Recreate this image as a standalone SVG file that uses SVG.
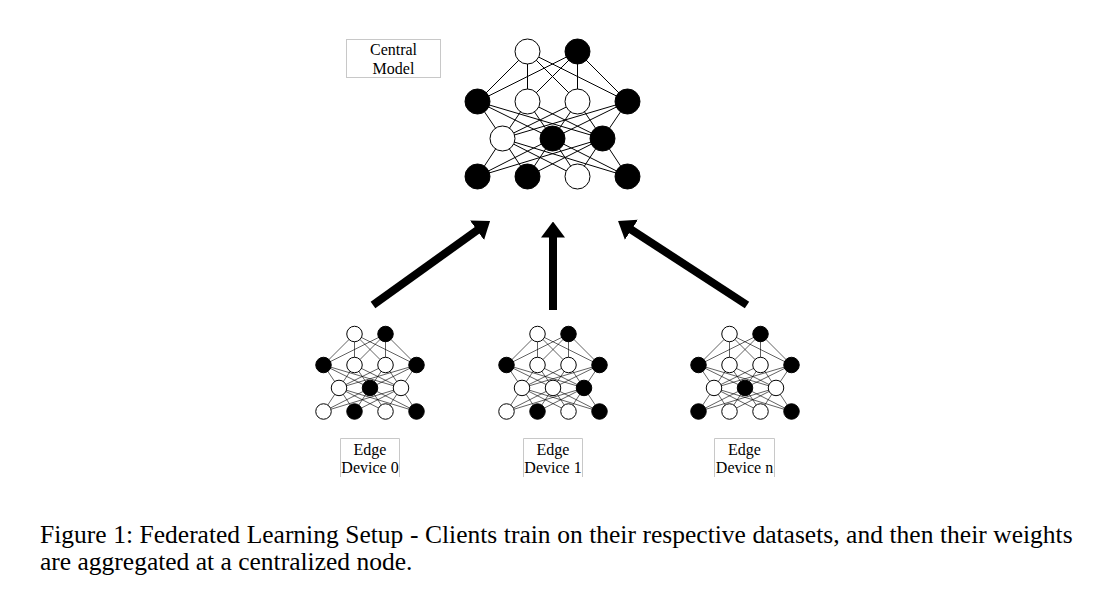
<svg xmlns="http://www.w3.org/2000/svg" xmlns:xlink="http://www.w3.org/1999/xlink" width="1112" height="602" viewBox="0 0 1112 602">
<style>
.ln{fill:none;stroke:#000;stroke-width:1}
.w{fill:#fff;stroke:#000;stroke-width:1}
.b{fill:#000;stroke:#000;stroke-width:1}
.edge .ln,.edge .w,.edge .b{stroke-width:1.6}
.box{fill:none;stroke:#c8c8c8;stroke-width:1}
.lbl{font-family:"Liberation Serif","DejaVu Serif",serif;font-size:16px;fill:#000;text-anchor:middle}
.cap{font-family:"Liberation Serif","Times New Roman",serif;font-size:25.5px;fill:#000}
.arr{fill:none;stroke:#000;stroke-width:8}
</style>
<defs>
<marker id="ah" markerUnits="userSpaceOnUse" viewBox="0 0 16 24" markerWidth="16" markerHeight="24" refX="4" refY="12" orient="auto">
<path d="M0,0 L16,12 L0,24 Z" fill="#000"/>
</marker>
<path id="net" class="ln" d="M-25,0L-75,50M-25,0L-25,50M-25,0L25,50M-25,0L75,50M25,0L-75,50M25,0L-25,50M25,0L25,50M25,0L75,50
M-75,50L-50,87M-75,50L0,87M-75,50L50,87M-25,50L-50,87M-25,50L0,87M-25,50L50,87M25,50L-50,87M25,50L0,87M25,50L50,87M75,50L-50,87M75,50L0,87M75,50L50,87
M-50,87L-75,125M-50,87L-25,125M-50,87L25,125M-50,87L75,125M0,87L-75,125M0,87L-25,125M0,87L25,125M0,87L75,125M50,87L-75,125M50,87L-25,125M50,87L25,125M50,87L75,125"/>
</defs>

<g id="central-model">
<g transform="translate(552.5,51.5)">
<use xlink:href="#net" href="#net"/>
<circle class="w" cx="-25" cy="0" r="12.5"/><circle class="b" cx="25" cy="0" r="12.5"/>
<circle class="b" cx="-75" cy="50" r="12.5"/><circle class="w" cx="-25" cy="50" r="12.5"/><circle class="w" cx="25" cy="50" r="12.5"/><circle class="b" cx="75" cy="50" r="12.5"/>
<circle class="w" cx="-50" cy="87" r="12.5"/><circle class="b" cx="0" cy="87" r="12.5"/><circle class="b" cx="50" cy="87" r="12.5"/>
<circle class="b" cx="-75" cy="125" r="12.5"/><circle class="b" cx="-25" cy="125" r="12.5"/><circle class="w" cx="25" cy="125" r="12.5"/><circle class="b" cx="75" cy="125" r="12.5"/>
</g>
<rect class="box" x="346.5" y="39.5" width="94" height="38"/>
<text class="lbl" x="393.5" y="55">Central</text>
<text class="lbl" x="393.5" y="73.5">Model</text>
</g>

<g id="edge-device-0">
<g class="edge" transform="translate(370,334) scale(0.62)">
<use xlink:href="#net" href="#net"/>
<circle class="w" cx="-25" cy="0" r="12.5"/><circle class="b" cx="25" cy="0" r="12.5"/>
<circle class="b" cx="-75" cy="50" r="12.5"/><circle class="w" cx="-25" cy="50" r="12.5"/><circle class="w" cx="25" cy="50" r="12.5"/><circle class="b" cx="75" cy="50" r="12.5"/>
<circle class="w" cx="-50" cy="87" r="12.5"/><circle class="b" cx="0" cy="87" r="12.5"/><circle class="w" cx="50" cy="87" r="12.5"/>
<circle class="w" cx="-75" cy="125" r="12.5"/><circle class="b" cx="-25" cy="125" r="12.5"/><circle class="w" cx="25" cy="125" r="12.5"/><circle class="b" cx="75" cy="125" r="12.5"/>
</g>
<path class="box" d="M340.5,477V438.5H399.5V477"/>
<text class="lbl" x="370" y="455">Edge</text>
<text class="lbl" x="370" y="473">Device 0</text>
</g>

<g id="edge-device-1">
<g class="edge" transform="translate(553,334) scale(0.62)">
<use xlink:href="#net" href="#net"/>
<circle class="w" cx="-25" cy="0" r="12.5"/><circle class="b" cx="25" cy="0" r="12.5"/>
<circle class="b" cx="-75" cy="50" r="12.5"/><circle class="w" cx="-25" cy="50" r="12.5"/><circle class="w" cx="25" cy="50" r="12.5"/><circle class="b" cx="75" cy="50" r="12.5"/>
<circle class="w" cx="-50" cy="87" r="12.5"/><circle class="w" cx="0" cy="87" r="12.5"/><circle class="b" cx="50" cy="87" r="12.5"/>
<circle class="w" cx="-75" cy="125" r="12.5"/><circle class="b" cx="-25" cy="125" r="12.5"/><circle class="w" cx="25" cy="125" r="12.5"/><circle class="b" cx="75" cy="125" r="12.5"/>
</g>
<path class="box" d="M523.5,477V438.5H582.5V477"/>
<text class="lbl" x="553" y="455">Edge</text>
<text class="lbl" x="553" y="473">Device 1</text>
</g>

<g id="edge-device-n">
<g class="edge" transform="translate(745,334) scale(0.62)">
<use xlink:href="#net" href="#net"/>
<circle class="w" cx="-25" cy="0" r="12.5"/><circle class="b" cx="25" cy="0" r="12.5"/>
<circle class="b" cx="-75" cy="50" r="12.5"/><circle class="w" cx="-25" cy="50" r="12.5"/><circle class="w" cx="25" cy="50" r="12.5"/><circle class="b" cx="75" cy="50" r="12.5"/>
<circle class="w" cx="-50" cy="87" r="12.5"/><circle class="b" cx="0" cy="87" r="12.5"/><circle class="w" cx="50" cy="87" r="12.5"/>
<circle class="b" cx="-75" cy="125" r="12.5"/><circle class="w" cx="-25" cy="125" r="12.5"/><circle class="w" cx="25" cy="125" r="12.5"/><circle class="b" cx="75" cy="125" r="12.5"/>
</g>
<path class="box" d="M714.5,477V438.5H774.5V477"/>
<text class="lbl" x="744.5" y="455">Edge</text>
<text class="lbl" x="744.5" y="473">Device n</text>
</g>

<g id="connectors">
<line class="arr" x1="373" y1="305" x2="480.3" y2="228" marker-end="url(#ah)"/>
<line class="arr" x1="553" y1="310" x2="553" y2="233.5" marker-end="url(#ah)"/>
<line class="arr" x1="747" y1="305" x2="628.1" y2="227.6" marker-end="url(#ah)"/>
</g>

<g id="caption">
<text class="cap" x="40" y="543" word-spacing="0.2">Figure 1: Federated Learning Setup - Clients train on their respective datasets, and then their weights</text>
<text class="cap" x="40" y="570">are aggregated at a centralized node.</text>
</g>
</svg>
